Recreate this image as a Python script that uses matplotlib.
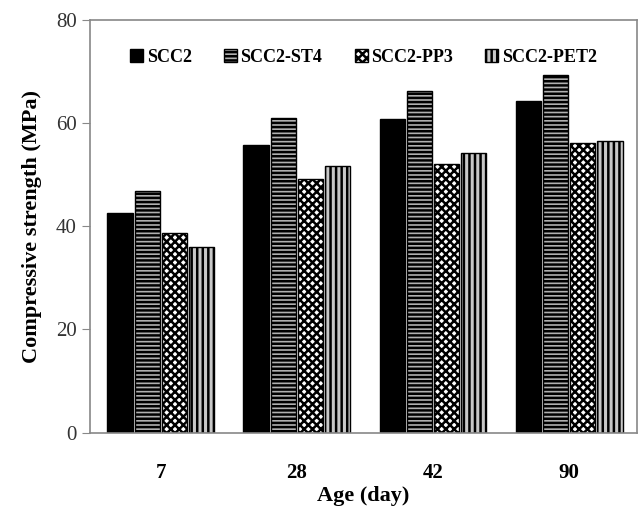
import numpy as np
import matplotlib
matplotlib.use("Agg")
import matplotlib.pyplot as plt

plt.rcParams['font.family'] = ['Liberation Serif', 'DejaVu Serif']
plt.rcParams['hatch.linewidth'] = 1.8

ages = ['7', '28', '42', '90']
series = ['SCC2', 'SCC2-ST4', 'SCC2-PP3', 'SCC2-PET2']
scc2 = [42.6, 55.7, 60.8, 64.3]
st4 = [46.8, 60.9, 66.2, 69.3]
pp3 = [38.7, 49.1, 52.0, 56.1]
pet2 = [36.0, 51.6, 54.3, 56.6]

values = [scc2, st4, pp3, pet2]
faces = ['black', '#b0b0b0', 'white', '#c8c8c8']
hatches = [None, '----', 'xxxx', '|||']

fig = plt.figure(figsize=(6.43, 5.12), dpi=100)
ax = fig.add_axes([0.14, 0.155, 0.851, 0.806])

x = np.arange(len(ages))
w = 0.185
for i, (name, vals) in enumerate(zip(series, values)):
    ax.bar(x + (i - 1.5) * 0.2, vals, w, color=faces[i], edgecolor='black',
           hatch=hatches[i], linewidth=1.0, label=name)

ax.set_xlim(-0.52, 3.5)
ax.set_ylim(0, 80)
ax.set_yticks([0, 20, 40, 60, 80])
ax.set_xticks(x)
ax.set_xticklabels(ages, fontweight='bold')
ax.tick_params(axis='x', length=0, labelsize=15, pad=22)
ax.tick_params(axis='y', direction='out', length=6, color='#888888', labelsize=15,
               labelcolor='#333333')
for s in ax.spines.values():
    s.set_color('#888888')
    s.set_linewidth(1.2)

ax.set_xlabel('Age (day)', fontsize=16, fontweight='bold', labelpad=2)
ax.set_ylabel('Compressive strength (MPa)', fontsize=16, fontweight='bold', labelpad=10)

leg = ax.legend(loc='upper center', ncol=4, frameon=False,
                bbox_to_anchor=(0.5, 0.97), handlelength=0.7, handleheight=0.7,
                handletextpad=0.2, columnspacing=1.8,
                prop={'weight': 'bold', 'size': 13})

fig.savefig('out.png', dpi=100)
